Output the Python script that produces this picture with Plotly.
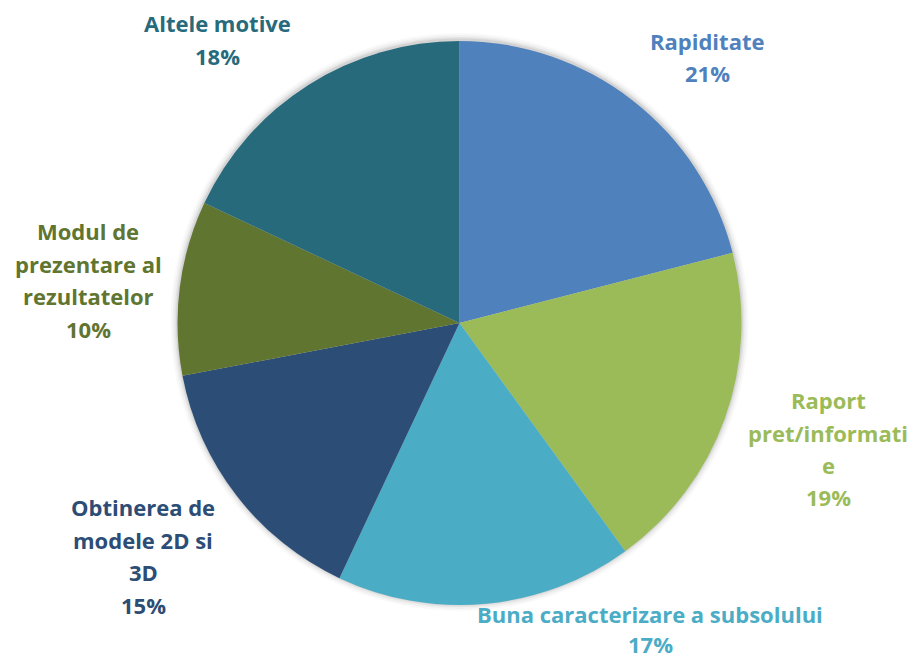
import plotly.graph_objects as go

# Motive pentru alegerea metodei
categories = [
    "Rapiditate",
    "Raport pret/informatie",
    "Buna caracterizare a subsolului",
    "Obtinerea de modele 2D si 3D",
    "Modul de prezentare al rezultatelor",
    "Altele motive",
]
values = [21, 19, 17, 15, 10, 18]

# Label text split into lines as shown next to each slice
label_lines = [
    ["Rapiditate"],
    ["Raport", "pret/informati", "e"],
    ["Buna caracterizare a subsolului"],
    ["Obtinerea de", "modele 2D si", "3D"],
    ["Modul de", "prezentare al", "rezultatelor"],
    ["Altele motive"],
]

colors = ["#4F81BD", "#9BBB59", "#4BACC6", "#2C4D75", "#5F7530", "#276A7C"]

W, H = 911, 659
cx, cy, r = 459.5, 323, 282

fig = go.Figure()

# soft shadow ring behind the pie
shapes = []
for k, op in [(7, 0.025), (5, 0.035), (3, 0.05), (1.5, 0.07)]:
    rr = r + k
    shapes.append(dict(
        type="circle", xref="paper", yref="paper", layer="below",
        x0=(cx - rr) / W, x1=(cx + rr) / W,
        y0=(H - cy - rr + 1) / H, y1=(H - cy + rr + 1) / H,
        fillcolor=f"rgba(0,0,0,{op})", line=dict(width=0),
    ))

fig.add_trace(go.Pie(
    labels=categories,
    values=values,
    sort=False,
    direction="clockwise",
    rotation=0,
    marker=dict(colors=colors, line=dict(width=0)),
    textinfo="none",
    hoverinfo="label+percent",
    showlegend=False,
    domain=dict(x=[(cx - r) / W, (cx + r) / W], y=[(H - cy - r) / H, (H - cy + r) / H]),
))

# Label block anchors: (center x px, top line center y px, line gap px)
label_pos = [
    (707, 41, 32.5),
    (828, 400, 32.5),
    (650, 614, 30),
    (143, 507, 32.5),
    (88, 231, 32.5),
    (217, 23, 32.5),
]

total = sum(values)
annotations = []
for lines, v, c, (lx, ly, gap) in zip(label_lines, values, colors, label_pos):
    pct = f"{round(v / total * 100)}%"
    for i, t in enumerate(lines + [pct]):
        annotations.append(dict(
            x=lx / W, y=(H - (ly + i * gap)) / H,
            xref="paper", yref="paper",
            text=f"<b>{t}</b>", showarrow=False,
            xanchor="center", yanchor="middle",
            font=dict(family="Open Sans", size=22, color=c),
        ))

fig.update_layout(
    width=W, height=H,
    margin=dict(l=0, r=0, t=0, b=0),
    paper_bgcolor="white",
    plot_bgcolor="white",
    shapes=shapes,
    annotations=annotations,
)

fig.write_html("out.html")
